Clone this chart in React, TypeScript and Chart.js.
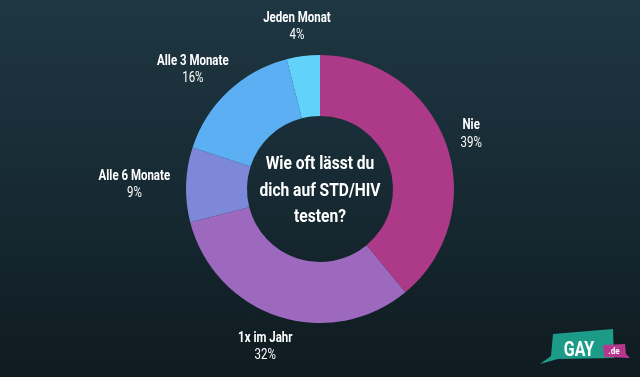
import React, { useEffect, useRef } from "react";
import { Chart, registerables } from "chart.js";

Chart.register(...registerables);

const categories = ["Nie", "1x im Jahr", "Alle 6 Monate", "Alle 3 Monate", "Jeden Monat"];
const shares = [39, 32, 9, 16, 4];
const sliceColors = ["#ac3a89", "#9c69be", "#7d88d8", "#5caff2", "#61d3fb"];
const centerLines = ["Wie oft lässt du", "dich auf STD/HIV", "testen?"];

const FONT = "Roboto, 'Noto Sans', sans-serif";
const SX = 0.82;

function drawScaled(ctx: CanvasRenderingContext2D, text: string, x: number, y: number, font: string, color: string, sx = SX) {
  ctx.save();
  ctx.font = font;
  ctx.fillStyle = color;
  ctx.textAlign = "center";
  ctx.textBaseline = "alphabetic";
  ctx.translate(x, y);
  ctx.scale(sx, 1);
  ctx.fillText(text, 0, 0);
  ctx.restore();
}

const labelPlugin = {
  id: "outerLabels",
  afterDatasetsDraw(chart: any) {
    const ctx: CanvasRenderingContext2D = chart.ctx;
    const meta = chart.getDatasetMeta(0);
    const titleFont = `bold 14px ${FONT}`;
    const pctFont = `14px ${FONT}`;
    meta.data.forEach((arc: any, i: number) => {
      const p = arc.getProps(["startAngle", "endAngle", "x", "y", "outerRadius", "innerRadius"], true);
      const mid = (p.startAngle + p.endAngle) / 2;
      const dx = Math.cos(mid);
      const dy = Math.sin(mid);
      const R = p.outerRadius + 16;
      ctx.save();
      ctx.font = titleFont;
      const w1 = ctx.measureText(categories[i]).width * SX;
      ctx.font = pctFont;
      const pct = shares[i] + "%";
      const w2 = ctx.measureText(pct).width * SX;
      ctx.restore();
      const w = Math.max(w1, w2);
      const h = 30;
      const cx = p.x + dx * R + dx * w / 2;
      const cy = p.y + dy * R + dy * h / 2;
      drawScaled(ctx, categories[i], cx, cy - 3.8, titleFont, "#ffffff");
      drawScaled(ctx, pct, cx, cy + 13.5, pctFont, "#ffffff");
    });
    // center text
    const a = meta.data[0];
    const cxc = a.x;
    const cyc = a.y;
    centerLines.forEach((line, i) => {
      drawScaled(ctx, line, cxc, cyc + 6.5 + (i - 1) * 26.5, `bold 19px ${FONT}`, "#ffffff");
    });
  },
  afterDraw(chart: any) {
    const ctx: CanvasRenderingContext2D = chart.ctx;
    ctx.save();
    // teal bubble
    ctx.fillStyle = "#1c9c88";
    ctx.beginPath();
    ctx.moveTo(553, 334);
    ctx.lineTo(613, 329);
    ctx.lineTo(614, 358);
    ctx.lineTo(558, 359);
    ctx.lineTo(540, 364);
    ctx.lineTo(551, 356);
    ctx.closePath();
    ctx.fill();
    // pink bubble
    ctx.fillStyle = "#b3388e";
    ctx.beginPath();
    ctx.moveTo(603, 345);
    ctx.lineTo(625, 344);
    ctx.lineTo(626, 354);
    ctx.lineTo(630, 358);
    ctx.lineTo(604, 357);
    ctx.closePath();
    ctx.fill();
    ctx.restore();
    drawScaled(ctx, "GAY", 579, 356, `bold 20px ${FONT}`, "#ffffff", 0.8);
    drawScaled(ctx, ".de", 614, 354, `bold 9px ${FONT}`, "#ffffff", 0.9);
  },
};

export default function App() {
  const ref = useRef<HTMLCanvasElement>(null);
  useEffect(() => {
    document.body.style.margin = "0";
    const chart = new Chart(ref.current!, {
      type: "doughnut",
      data: {
        labels: categories,
        datasets: [
          {
            data: shares,
            backgroundColor: sliceColors,
            borderWidth: 0,
          },
        ],
      },
      options: {
        responsive: false,
        animation: false,
        cutout: "54.5%",
        layout: { padding: { top: 55, bottom: 54, left: 0, right: 0 } },
        plugins: {
          legend: { display: false },
          tooltip: { enabled: false },
        },
      },
      plugins: [labelPlugin],
    });
    return () => chart.destroy();
  }, []);
  return (
    <div
      style={{
        position: "absolute",
        left: 0,
        top: 0,
        width: 640,
        height: 377,
        background: "linear-gradient(to bottom, #1e3743 0%, #172a33 50%, #0f1b20 100%)",
      }}
    >
      <canvas ref={ref} width={640} height={377} style={{ display: "block" }} />
    </div>
  );
}
